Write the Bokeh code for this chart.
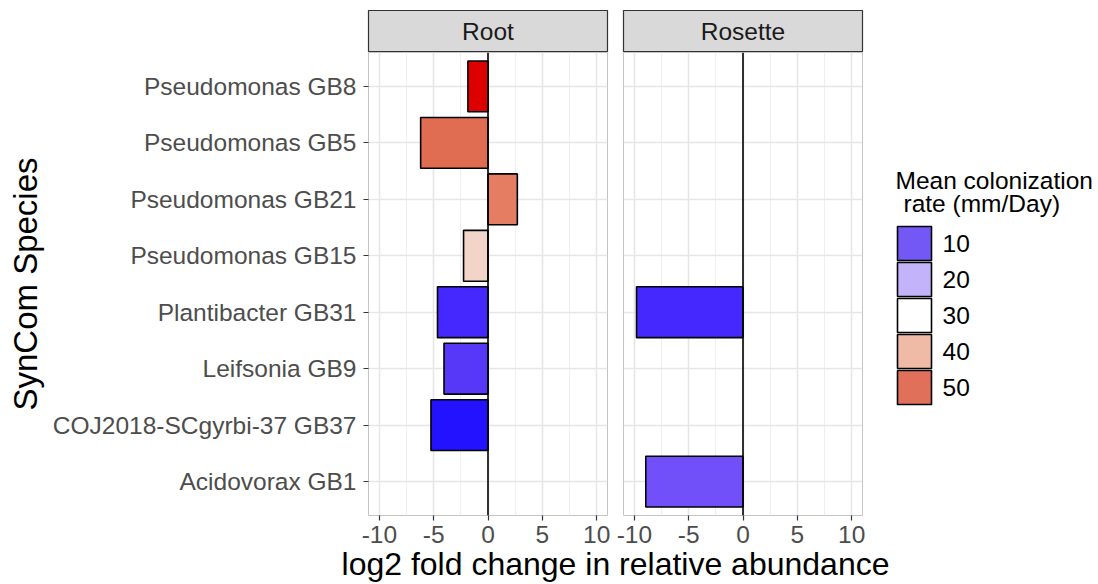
from bokeh.plotting import figure
from bokeh.layouts import row, column
from bokeh.models import FactorRange, Range1d, FixedTicker, Span, ColumnDataSource, PrintfTickFormatter
from bokeh.core.properties import value
from bokeh.embed import file_html
from bokeh.resources import INLINE

FONT = "Liberation Sans"

# Species, listed top to bottom as shown on the y axis
species = [
    "Pseudomonas GB8",
    "Pseudomonas GB5",
    "Pseudomonas GB21",
    "Pseudomonas GB15",
    "Plantibacter GB31",
    "Leifsonia GB9",
    "COJ2018-SCgyrbi-37 GB37",
    "Acidovorax GB1",
]

# Root compartment: log2 fold change and fill by colonization rate
root_species = species[:7]
root_lfc = [-1.85, -6.2, 2.7, -2.25, -4.65, -4.05, -5.25]
root_fill = ["#dd0000", "#e06c52", "#e47d62", "#f2d5c8", "#4428fe", "#5838f8", "#2212ff"]

# Rosette compartment
rosette_species = ["Plantibacter GB31", "Acidovorax GB1"]
rosette_lfc = [-9.8, -8.95]
rosette_fill = ["#4428fe", "#7150fa"]

# Colour key
legend_rates = ["10", "20", "30", "40", "50"]
legend_fill = ["#7358f5", "#c3b3fb", "#ffffff", "#efbba6", "#e0705a"]
legend_title = ["Mean colonization", "rate (mm/Day)"]

x_ticks = [-10, -5, 0, 5, 10]
x_minor = [-7.5, -2.5, 2.5, 7.5]

panel_names = ["Root", "Rosette"]


def bare(fig):
    fig.axis.visible = False
    fig.grid.visible = False
    fig.border_fill_color = "white"
    return fig


def strip(label, width, left, right):
    s = bare(figure(width=width, height=52, x_range=Range1d(-1, 1), y_range=Range1d(-1, 1),
                    output_backend="svg", toolbar_location=None, title=None,
                    min_border_left=left, min_border_right=right,
                    min_border_top=10, min_border_bottom=1))
    s.background_fill_color = "#d9d9d9"
    s.outline_line_color = "#333333"
    s.outline_line_width = 1.2
    s.text(x=[0], y=[0], text=[label], text_align="center", text_baseline="middle",
           text_font=value(FONT), text_font_size="24.5px", text_color="#1a1a1a")
    return s


def panel(names, lfc, fill, width, left, right, show_y):
    p = figure(width=width, height=498,
               y_range=FactorRange(factors=species[::-1], range_padding=0.1,
                                   range_padding_units="absolute"),
               x_range=Range1d(-11, 11),
               output_backend="svg", toolbar_location=None, title=None,
               min_border_left=left, min_border_right=right,
               min_border_top=0, min_border_bottom=35)
    p.background_fill_color = "white"
    p.border_fill_color = "white"
    p.outline_line_color = "#c4c4c4"
    p.outline_line_width = 1

    ticker = FixedTicker(ticks=x_ticks, minor_ticks=x_minor)
    p.xaxis.ticker = ticker
    p.xaxis.formatter = PrintfTickFormatter(format="%d")
    p.xgrid.ticker = ticker
    p.xgrid.grid_line_color = "#e6e6e6"
    p.xgrid.grid_line_width = 1.6
    p.xgrid.minor_grid_line_color = "#efefef"
    p.xgrid.minor_grid_line_width = 1
    p.ygrid.grid_line_color = "#e6e6e6"
    p.ygrid.grid_line_width = 1.6

    for ax in p.axis:
        ax.axis_line_color = None
        ax.major_tick_line_color = "#333333"
        ax.major_tick_line_width = 1.2
        ax.major_tick_in = 0
        ax.major_tick_out = 5
        ax.minor_tick_line_color = None
        ax.major_label_text_font = FONT
        ax.major_label_text_font_size = "24.5px"
        ax.major_label_text_color = "#4d4d4d"
    p.xaxis.major_label_standoff = 5

    if show_y:
        p.yaxis.major_label_standoff = 7
        p.yaxis.axis_label = "SynCom Species"
        p.yaxis.axis_label_text_font = FONT
        p.yaxis.axis_label_text_font_size = "33px"
        p.yaxis.axis_label_text_font_style = "normal"
        p.yaxis.axis_label_text_color = "black"
        p.yaxis.axis_label_standoff = 6
    else:
        p.yaxis.visible = False

    src = ColumnDataSource(dict(species=names, lfc=lfc, fill=fill))
    p.hbar(y="species", left=0, right="lfc", height=0.9, fill_color="fill",
           line_color="black", line_width=1.6, source=src)
    p.add_layout(Span(location=0, dimension="height", line_color="black", line_width=1.6))
    return p


s_root = strip(panel_names[0], 615, 368, 8)
p_root = panel(root_species, root_lfc, root_fill, 615, 368, 8, True)
s_ros = strip(panel_names[1], 255, 8, 8)
p_ros = panel(rosette_species, rosette_lfc, rosette_fill, 255, 8, 8, False)

# Colour key drawn in its own pixel-scaled canvas
leg = bare(figure(width=228, height=550, x_range=Range1d(870, 1098), y_range=Range1d(550, 0),
                  output_backend="svg", toolbar_location=None, title=None,
                  min_border_left=0, min_border_right=0, min_border_top=0, min_border_bottom=0))
leg.outline_line_color = None
leg.background_fill_color = "white"
key_top = [226 + 36 * i for i in range(len(legend_rates))]
leg.quad(left=897, right=931, top=key_top, bottom=[t + 34 for t in key_top],
         fill_color=legend_fill, line_color="black", line_width=1.6)
leg.text(x=942, y=[t + 17 for t in key_top], text=legend_rates, text_baseline="middle",
         text_font=value(FONT), text_font_size="24.5px", text_color="black")
leg.text(x=[895, 903], y=[180, 203], text=legend_title, text_baseline="middle",
         text_font=value(FONT), text_font_size="24.5px", text_color="black")

# Shared x axis title under both panels
xt = bare(figure(width=1098, height=34, x_range=Range1d(0, 1098), y_range=Range1d(0, 34),
                 output_backend="svg", toolbar_location=None, title=None,
                 min_border_left=0, min_border_right=0, min_border_top=0, min_border_bottom=0))
xt.outline_line_color = None
xt.background_fill_color = "white"
xt.text(x=[615], y=[20.5], text=["log2 fold change in relative abundance"],
        text_align="center", text_baseline="middle",
        text_font=value(FONT), text_font_size="32px", text_color="black")

layout = column(row(column(s_root, p_root), column(s_ros, p_ros), leg), xt)

open("out.html", "w").write(file_html(layout, INLINE))
